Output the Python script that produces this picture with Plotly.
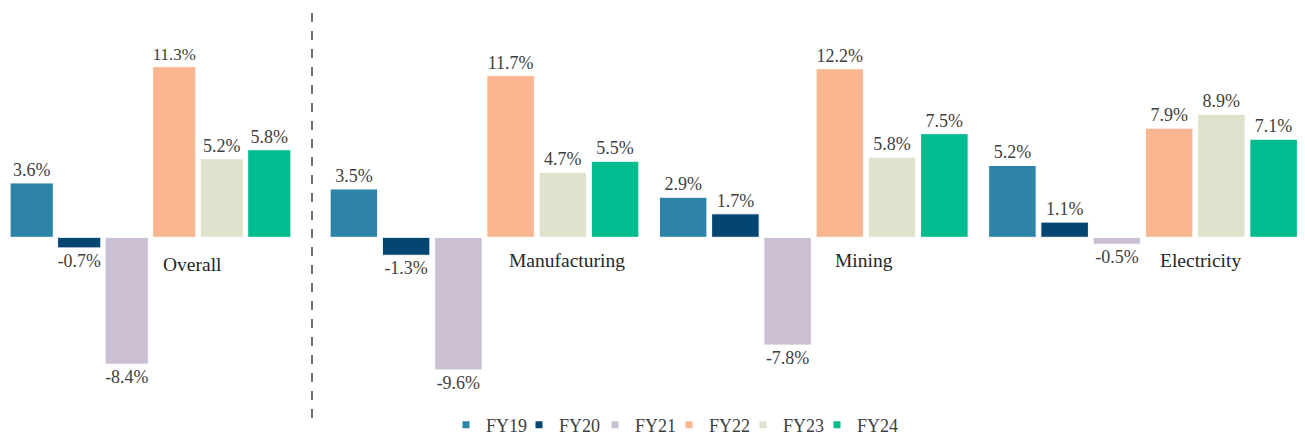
import plotly.graph_objects as go

series = ["FY19", "FY20", "FY21", "FY22", "FY23", "FY24"]
colors = ["#2E84A8", "#054571", "#CBC0D3", "#F9B690", "#DFE3CE", "#02BB8E"]

overall_cat = ["Overall"]
overall_vals = {
    "FY19": [3.6], "FY20": [-0.7], "FY21": [-8.4],
    "FY22": [11.3], "FY23": [5.2], "FY24": [5.8],
}

sector_cats = ["Manufacturing", "Mining", "Electricity"]
sector_vals = {
    "FY19": [3.5, 2.9, 5.2],
    "FY20": [-1.3, 1.7, 1.1],
    "FY21": [-9.6, -7.8, -0.5],
    "FY22": [11.7, 12.2, 7.9],
    "FY23": [4.7, 5.8, 8.9],
    "FY24": [5.5, 7.5, 7.1],
}

# category label placement (px offsets from the category centre)
label_dx = {"Overall": 10.5, "Manufacturing": 22.5, "Mining": 19, "Electricity": 15}
label_dy = {"Overall": -27, "Manufacturing": -23, "Mining": -23, "Electricity": -23}

# legend entry text positions (px)
legend_text_x = [474, 547, 623, 697, 771, 845]

FONT = "Liberation Serif, Times New Roman, Times, serif"
W, H = 1297, 427
fig = go.Figure()

legend_ids = ["legend"] + [f"legend{i}" for i in range(2, 7)]

for s, c in zip(series, colors):
    fig.add_trace(go.Bar(
        x=overall_cat, y=overall_vals[s], name=s, marker_color=c,
        marker_line=dict(color="white", width=1),
        text=[f"{v:.1f}%" for v in overall_vals[s]], textposition="outside",
        textfont=dict(family=FONT, size=18, color="#404040"),
        cliponaxis=False, xaxis="x", yaxis="y", legendgroup=s, showlegend=False,
    ))
for s, c in zip(series, colors):
    fig.add_trace(go.Bar(
        x=sector_cats, y=sector_vals[s], name=s, marker_color=c,
        marker_line=dict(color="white", width=1),
        text=[f"{v:.1f}%" for v in sector_vals[s]], textposition="outside",
        textfont=dict(family=FONT, size=18, color="#404040"),
        cliponaxis=False, xaxis="x2", yaxis="y2", legendgroup=s, showlegend=False,
    ))
# legend keys (small squares, as in the original)
for i, (s, c) in enumerate(zip(series, colors)):
    fig.add_trace(go.Scatter(
        x=[None], y=[None], mode="markers", name=s,
        marker=dict(symbol="square", size=7, color=c),
        xaxis="x", yaxis="y", legendgroup=s, showlegend=True,
        legend=legend_ids[i], hoverinfo="skip",
    ))

annotations = []
for cat, xa, ya in [("Overall", "x", "y")] + [(c, "x2", "y2") for c in sector_cats]:
    annotations.append(dict(
        x=cat, y=0, xref=xa, yref=ya, text=cat, showarrow=False,
        xanchor="left", yanchor="middle",
        xshift=label_dx[cat], yshift=label_dy[cat],
        font=dict(family=FONT, size=19.5, color="#262626"),
    ))

legends = {}
for lid, tx in zip(legend_ids, legend_text_x):
    legends[lid] = dict(
        orientation="h", x=(tx - 36) / W, xanchor="left", y=-0.092, yanchor="middle",
        font=dict(family=FONT, size=18, color="#404040"),
        itemwidth=30, bgcolor="rgba(0,0,0,0)",
    )

ax = dict(visible=False, showgrid=False, zeroline=False, fixedrange=True)
fig.update_layout(
    width=W, height=H,
    margin=dict(l=0, r=0, t=2, b=45, pad=0, autoexpand=False),
    paper_bgcolor="white", plot_bgcolor="white",
    barmode="group", bargap=0.048, bargroupgap=0.09,
    xaxis=dict(ax, domain=[0, 290 / W], range=[-0.4758, 0.4925], type="category"),
    yaxis=dict(ax, range=[-10.11, 15.05]),
    xaxis2=dict(ax, domain=[312 / W, 1], range=[-0.4996, 2.492], type="category"),
    yaxis2=dict(ax, anchor="x2", range=[-11.05, 16.45]),
    annotations=annotations,
    shapes=[dict(type="line", xref="paper", yref="paper",
                 x0=304 / W, x1=304 / W, y0=-0.074, y1=1.005,
                 line=dict(color="#222222", width=1.3, dash="dash"))],
    showlegend=True,
    **legends,
)

fig.write_html("out.html")
